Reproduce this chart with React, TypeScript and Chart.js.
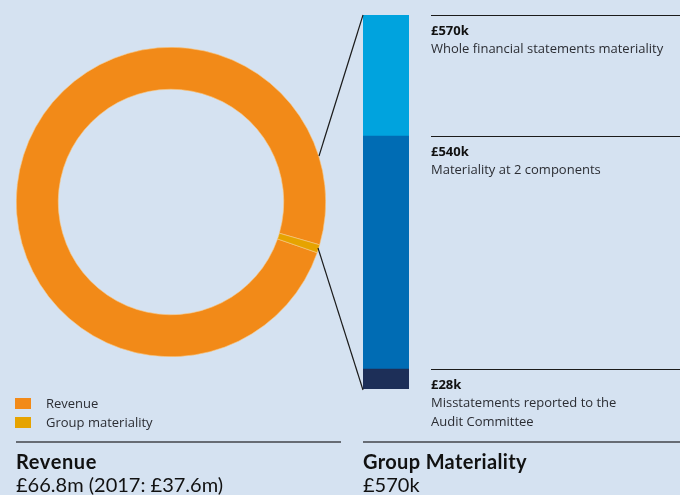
import React, { useEffect, useRef } from "react";
import { Chart, registerables, LinearScale } from "chart.js";

// ---------- data ----------
const revenueLabels = ["Revenue", "Group materiality"];
const revenueValues = [66.8, 0.57]; // £m
const revenuePrior = 37.6; // £m, 2017
const revenueColors = ["#f28a18", "#e6a300"];

const materialityLabels = [
  "Misstatements reported to the\nAudit Committee",
  "Materiality at 2 components",
  "Whole financial statements materiality",
];
const materialityLevels = [28, 540, 570]; // £k
const materialityColors = ["#1d2f58", "#006cb4", "#00a3de"];
const groupMateriality = 570; // £k

// ---------- styling ----------
const BG = "#d5e2f1";
const FONT = "Lato, 'Open Sans', sans-serif";
const SMALL_FONT = "'Open Sans', Lato, sans-serif";
// where each level sits along the (broken, schematic) axis, as a fraction of its length
const breakPositions = [0, 0.0535, 0.6765, 1];
const materialityMidAngle = 107.6; // degrees clockwise from top

class BrokenScale extends LinearScale {
  static id = "broken";
  static defaults = LinearScale.defaults;
  getPixelForValue(value: number) {
    const stops = [0, ...materialityLevels];
    let dec = 0;
    if (value >= stops[stops.length - 1]) dec = 1;
    else {
      for (let i = 1; i < stops.length; i++) {
        if (value <= stops[i]) {
          const t = (value - stops[i - 1]) / (stops[i] - stops[i - 1]);
          dec = breakPositions[i - 1] + t * (breakPositions[i] - breakPositions[i - 1]);
          break;
        }
      }
    }
    if (value <= 0) dec = 0;
    return (this as any).getPixelForDecimal(dec);
  }
}

Chart.register(...registerables, BrokenScale);

function Donut() {
  const ref = useRef<HTMLCanvasElement>(null);
  useEffect(() => {
    const total = revenueValues.reduce((a, b) => a + b, 0);
    const matSpan = (revenueValues[1] / total) * 360;
    const revSpan = (revenueValues[0] / total) * 360;
    const rotation = materialityMidAngle - matSpan / 2 - revSpan;
    const chart = new Chart(ref.current!, {
      type: "doughnut",
      data: {
        labels: revenueLabels,
        datasets: [
          {
            data: revenueValues,
            backgroundColor: revenueColors,
            borderColor: "#f6c98a",
            borderWidth: 0.6,
            hoverOffset: 0,
          },
        ],
      },
      options: {
        responsive: false,
        animation: false,
        cutout: "72.9%",
        rotation,
        layout: { padding: 0, autoPadding: false },
        plugins: { legend: { display: false }, tooltip: { enabled: false } },
      },
    });
    return () => chart.destroy();
  }, []);
  return (
    <canvas
      ref={ref}
      width={310}
      height={310}
      style={{ position: "absolute", left: 16, top: 47, width: 310, height: 310 }}
    />
  );
}

function LevelBar() {
  const ref = useRef<HTMLCanvasElement>(null);
  useEffect(() => {
    const datasets = materialityLevels.map((v, i) => ({
      label: materialityLabels[i],
      data: [[i === 0 ? 0 : materialityLevels[i - 1], v]],
      backgroundColor: materialityColors[i],
      borderWidth: 0,
      barPercentage: 1,
      categoryPercentage: 1,
    }));
    const chart = new Chart(ref.current!, {
      type: "bar",
      data: { labels: ["Group materiality"], datasets: datasets as any },
      options: {
        responsive: false,
        animation: false,
        layout: { padding: 0, autoPadding: false } as any,
        scales: {
          x: { type: "category", display: false, stacked: true },
          y: { type: "broken" as any, display: false, min: 0, max: groupMateriality },
        },
        plugins: { legend: { display: false }, tooltip: { enabled: false } },
      },
    });
    return () => chart.destroy();
  }, []);
  return (
    <canvas
      ref={ref}
      width={46}
      height={374}
      style={{ position: "absolute", left: 363, top: 15, width: 46, height: 374 }}
    />
  );
}

const lineTops = [369, 136, 15];

export default function App() {
  return (
    <div
      style={{
        position: "absolute",
        left: 0,
        top: 0,
        width: 680,
        height: 495,
        background: BG,
        overflow: "hidden",
        fontFamily: FONT,
      }}
    >
      <Donut />
      <LevelBar />
      <svg
        width={680}
        height={495}
        style={{ position: "absolute", left: 0, top: 0, pointerEvents: "none" }}
      >
        <line x1={319} y1={156} x2={363} y2={15} stroke="#1b1b1b" strokeWidth={1.2} />
        <line x1={318} y1={248} x2={363} y2={390} stroke="#1b1b1b" strokeWidth={1.2} />
        {lineTops.map((y, i) => (
          <line key={i} x1={431} y1={y + 0.5} x2={680} y2={y + 0.5} stroke="#1b1b1b" strokeWidth={1} />
        ))}
        <line x1={16} y1={442} x2={341} y2={442} stroke="#676c74" strokeWidth={2} />
        <line x1={363} y1={442} x2={680} y2={442} stroke="#676c74" strokeWidth={2} />
      </svg>

      {materialityLevels.map((v, i) => (
        <div
          key={i}
          style={{
            position: "absolute",
            left: 431,
            top: lineTops[i] + 6,
            width: 249,
            fontSize: 13,
            fontFamily: SMALL_FONT,
            color: "#2b2d33",
          }}
        >
          <div style={{ fontWeight: 700, lineHeight: "18px", color: "#111" }}>£{v}k</div>
          <div style={{ lineHeight: "19px", whiteSpace: "pre-line" }}>{materialityLabels[i]}</div>
        </div>
      ))}

      {revenueLabels.map((l, i) => (
        <div
          key={l}
          style={{ position: "absolute", left: 15, top: 398 + i * 19, height: 11, display: "flex", alignItems: "center" }}
        >
          <div style={{ width: 16, height: 11, background: revenueColors[i] }} />
          <div
            style={{
              marginLeft: 15,
              fontSize: 13,
              fontFamily: SMALL_FONT,
              color: "#2b2d33",
              whiteSpace: "nowrap",
              lineHeight: "11px",
            }}
          >
            {l}
          </div>
        </div>
      ))}

      <div style={{ position: "absolute", left: 16, top: 450, fontSize: 20, lineHeight: "23px", color: "#111" }}>
        <div style={{ fontWeight: 700, letterSpacing: 0.6 }}>Revenue</div>
        <div style={{ fontWeight: 400 }}>
          £{revenueValues[0].toFixed(1)}m (2017: £{revenuePrior.toFixed(1)}m)
        </div>
      </div>
      <div style={{ position: "absolute", left: 363, top: 450, fontSize: 20, lineHeight: "23px", color: "#111" }}>
        <div style={{ fontWeight: 700, letterSpacing: 0.35 }}>Group Materiality</div>
        <div style={{ fontWeight: 400 }}>£{groupMateriality}k</div>
      </div>
    </div>
  );
}
